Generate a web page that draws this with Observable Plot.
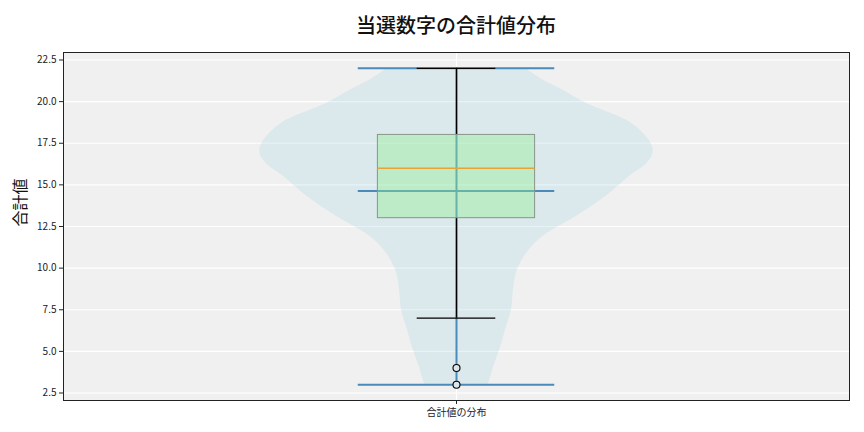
<!DOCTYPE html>
<html>
<head>
<meta charset="utf-8">
<script src="https://cdn.jsdelivr.net/npm/d3@7"></script>
<script src="https://cdn.jsdelivr.net/npm/@observablehq/plot@0.6"></script>
<style>
  body { margin: 0; background: #fff; font-family: "Noto Sans CJK JP", "Noto Sans", sans-serif; }
  #wrap { width: 864px; height: 432px; position: relative; }
  #title { height: 44px; width: 864px; text-align: center; padding-left: 48px; box-sizing: border-box;
           font-size: 20px; line-height: 50px; color: #111; font-weight: 500; }
</style>
</head>
<body>
<div id="wrap">
  <div id="title">当選数字の合計値分布</div>
  <div id="chart"></div>
</div>
<script>
// Category label
const categories = ["合計値の分布"];
// Violin outline: values and relative density (1 = widest)
const violinValues = [3, 3.3, 4.1, 5.1, 6.3, 7.5, 8.7, 9.9, 11.1, 11.9, 13.1, 14.3, 15.5, 16.3, 16.9, 17.5, 18.7, 19.9, 20.7, 21.3, 22];
const violinDensity = [0.16, 0.17, 0.19, 0.22, 0.25, 0.28, 0.29, 0.31, 0.37, 0.44, 0.61, 0.76, 0.88, 0.97, 1.0, 0.99, 0.89, 0.66, 0.54, 0.44, 0.35];
// Box statistics
const boxStats = { min: 3, max: 22, whiskerLow: 7, whiskerHigh: 22, q1: 13, median: 16, q3: 18, mean: 14.63 };
const outliers = [4, 3];
const yTicks = [2.5, 5.0, 7.5, 10.0, 12.5, 15.0, 17.5, 20.0, 22.5];

const pos = 1;
const violinHalf = 0.25, boxHalf = 0.1, capHalf = 0.05, extHalf = 0.125;
const violin = violinValues.map((v, i) => ({ y: v, d: violinDensity[i] }));

const plot = Plot.plot({
  width: 864,
  height: 388,
  marginTop: 8,
  marginBottom: 32,
  marginLeft: 63,
  marginRight: 15,
  style: { fontFamily: '"Noto Sans CJK JP", "Noto Sans", sans-serif', fontSize: "10px", color: "#222", background: "transparent" },
  x: { domain: [0.5, 1.5] },
  y: { domain: [2.05, 22.95] },
  marks: [
    Plot.frame({ fill: "#f0f0f0", stroke: null }),
    Plot.ruleY(yTicks, { stroke: "#fff", strokeWidth: 1.2 }),
    Plot.ruleX([pos], { stroke: "#fff", strokeWidth: 1.2 }),
    Plot.areaX(violin, {
      y: "y",
      x1: d => pos - violinHalf * d.d,
      x2: d => pos + violinHalf * d.d,
      fill: "#add8e6", fillOpacity: 0.3, curve: "catmull-rom"
    }),
    // violin lines: bar, extrema, mean
    Plot.ruleX([pos], { y1: boxStats.min, y2: boxStats.max, stroke: "#4a8bb9", strokeWidth: 2 }),
    Plot.ruleY([boxStats.min, boxStats.max, boxStats.mean], { x1: pos - extHalf, x2: pos + extHalf, stroke: "#4a8bb9", strokeWidth: 2 }),
    // whiskers
    Plot.ruleX([pos], { y1: boxStats.q3, y2: boxStats.whiskerHigh, stroke: "#000", strokeWidth: 1.3 }),
    Plot.ruleX([pos], { y1: boxStats.whiskerLow, y2: boxStats.q1, stroke: "#000", strokeWidth: 1.3 }),
    Plot.ruleY([boxStats.whiskerLow, boxStats.whiskerHigh], { x1: pos - capHalf, x2: pos + capHalf, stroke: "#000", strokeWidth: 1.3 }),
    // box
    Plot.rect([boxStats], { x1: pos - boxHalf, x2: pos + boxHalf, y1: "q1", y2: "q3", fill: "#90ee90", fillOpacity: 0.4, stroke: "#8a958c", strokeWidth: 1 }),
    Plot.ruleY([boxStats.median], { x1: pos - boxHalf, x2: pos + boxHalf, stroke: "#e8a236", strokeWidth: 1.4 }),
    // outliers
    Plot.dot(outliers, { x: () => pos, y: d => d, r: 3.5, stroke: "#000", strokeWidth: 1.1, fill: "#dae6ea" }),
    Plot.frame({ stroke: "#222", strokeWidth: 1 }),
    Plot.axisY({ ticks: yTicks, tickFormat: d => d.toFixed(1), tickSize: 4, tickPadding: 3, label: null, fontSize: 10 }),
    Plot.axisX({ ticks: [pos], tickFormat: () => categories[0], tickSize: 4, tickPadding: 4, label: null, fontSize: 10 }),
    Plot.text(["合計値"], { frameAnchor: "left", dx: -43, rotate: -90, fontSize: 16, fill: "#111" })
  ]
});
document.getElementById("chart").appendChild(plot);
</script>
</body>
</html>
